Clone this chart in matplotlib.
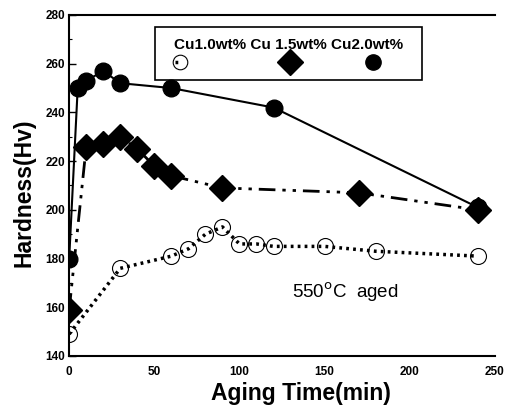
import matplotlib
matplotlib.use("Agg")
from matplotlib import pyplot as plt
from matplotlib.patches import Rectangle
from matplotlib.ticker import MultipleLocator

plt.rcParams['font.family'] = ['Liberation Sans', 'DejaVu Sans']

# 数据
t_cu10 = [0, 30, 60, 70, 80, 90, 100, 110, 120, 150, 180, 240]
hv_cu10 = [149, 176, 181, 184, 190, 193, 186, 186, 185, 185, 183, 181]

t_cu15 = [0, 10, 20, 30, 40, 50, 60, 90, 170, 240]
hv_cu15 = [159, 226, 227, 230, 225, 218, 214, 209, 207, 200]

t_cu20 = [0, 5, 10, 20, 30, 60, 120, 240]
hv_cu20 = [180, 250, 253, 257, 252, 250, 242, 201]

legend_names = ['Cu1.0wt%', 'Cu 1.5wt%', 'Cu2.0wt%']

fig = plt.figure(figsize=(5.05, 4.05), dpi=100)
ax = fig.add_axes([0.137, 0.121, 0.843, 0.842])

# 曲线
ax.plot(t_cu20, hv_cu20, '-', color='black', lw=1.5, marker='o', ms=12,
        mfc='black', mec='black', zorder=3)
ax.plot(t_cu15, hv_cu15, color='black', lw=2, ls=(0, (6, 2.5, 1.2, 2.5, 1.2, 2.5)),
        marker='D', ms=13.5, mfc='black', mec='black', zorder=4)
ax.plot(t_cu10, hv_cu10, color='black', lw=2.5, ls=(0, (0.8, 1.2)),
        marker='o', ms=11.5, mfc='none', mec='black', mew=0.8, zorder=2)

ax.set_xlim(0, 250)
ax.set_ylim(140, 280)
ax.set_xticks([0, 50, 100, 150, 200, 250])
ax.yaxis.set_major_locator(MultipleLocator(20))
ax.yaxis.set_minor_locator(MultipleLocator(10))
ax.tick_params(axis='y', direction='in', length=5, width=1, labelsize=8.5, pad=3)
ax.tick_params(axis='y', which='minor', direction='in', length=2.5, width=0.8)
ax.tick_params(axis='x', length=0, labelsize=8.5, pad=7)
for lab in ax.get_xticklabels() + ax.get_yticklabels():
    lab.set_fontweight('bold')

ax.spines['right'].set_visible(False)
for s in ['left', 'bottom', 'top']:
    ax.spines[s].set_linewidth(1.5)

ax.set_xlabel('Aging Time(min)', fontsize=16.5, fontweight='bold', labelpad=0)
ax.xaxis.set_label_coords(0.545, -0.075)
ax.set_ylabel('Hardness(Hv)', fontsize=16.5, fontweight='bold', labelpad=4)
ax.yaxis.set_label_coords(-0.08, 0.48)

ax.text(131, 166, '550$^{\\mathrm{o}}$C  aged', fontsize=13.5, va='center')

# 图例（手工绘制）
box = Rectangle((0.202, 0.809), 0.627, 0.156, transform=ax.transAxes,
                fill=False, lw=1.2, ec='black', zorder=5)
ax.add_patch(box)
ax.text(0.515, 0.912, ' '.join(legend_names), transform=ax.transAxes,
        ha='center', va='center', fontsize=11, fontweight='bold', zorder=6)
ax.plot([0.26], [0.862], transform=ax.transAxes, marker='o', ms=10.5, mfc='white',
        mec='black', mew=0.8, zorder=6, clip_on=False)
ax.plot([0.248, 0.272], [0.862, 0.862], transform=ax.transAxes, color='black',
        lw=2.5, ls=(0, (0.8, 2.5)), zorder=7)
ax.plot([0.519], [0.862], transform=ax.transAxes, marker='D', ms=13, color='black',
        zorder=6, clip_on=False)
ax.plot([0.714], [0.862], transform=ax.transAxes, marker='o', ms=11, color='black',
        zorder=6, clip_on=False)

plt.savefig('out.png', dpi=100)
